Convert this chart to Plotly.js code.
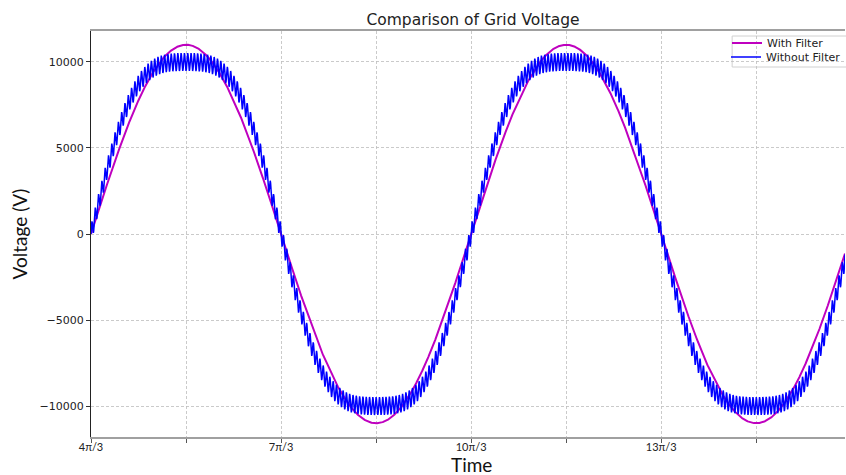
<!DOCTYPE html>
<html>
<head>
<meta charset="utf-8">
<script src="https://cdn.plot.ly/plotly-3.0.1.min.js"></script>
<style>
  html, body { margin: 0; padding: 0; background: #ffffff; overflow: hidden; }
  #chart { width: 846px; height: 475px; }
</style>
</head>
<body>
<div id="chart"></div>
<script>
// Phase window in radians: from 4π/3 over almost two fundamental cycles
const phaseStart = 4 * Math.PI / 3;
const phaseSpan = 3.967 * Math.PI;

// Harmonic content of each waveform: order and peak volts
const harmonicOrders = [1, 3];
const withFilterAmps = [11000, 0];
const withoutFilterAmps = [11160, 1160];

// Switching ripple left on the unfiltered voltage
const rippleOrders = [115];
const rippleAmps = [520];

// Axis ticks
const yTickVals = [-10000, -5000, 0, 5000, 10000];
const yTickText = ['\u221210000', '\u22125000', '0', '5000', '10000'];
const xTickHalfPi = [0, 1, 2, 3, 4, 5, 6, 7, 8];
const xTickText = ['4\u03c0/3', '', '7\u03c0/3', '', '10\u03c0/3', '', '13\u03c0/3', '', '16\u03c0/3'];

const nSamples = 9000;
const phase = [];
for (let i = 0; i <= nSamples; i++) phase.push(phaseStart + phaseSpan * i / nSamples);

function synth(amps, ripOrders, ripAmps) {
  return phase.map(p => {
    const th = p - phaseStart;
    let v = 0;
    harmonicOrders.forEach((h, k) => { v += amps[k] * Math.sin(h * th); });
    ripOrders.forEach((h, k) => { v += ripAmps[k] * Math.sin(h * th); });
    return v;
  });
}

const withFilter = synth(withFilterAmps, [], []);
const withoutFilter = synth(withoutFilterAmps, rippleOrders, rippleAmps);

const traces = [
  {
    x: phase, y: withFilter, type: 'scatter', mode: 'lines', name: 'With Filter',
    line: { color: '#bf00bf', width: 2 }, legend: 'legend'
  },
  {
    x: phase, y: withoutFilter, type: 'scatter', mode: 'lines', name: 'Without Filter',
    line: { color: '#0000ff', width: 1.5 }, legend: 'legend2'
  }
];

const gridStyle = { showgrid: true, gridcolor: '#bdbdbd', griddash: '3px,2px', gridwidth: 0.8 };

// plot-area pixel helpers for placing the legend frame
const plotL = 91, plotT = 31, plotW = 755, plotH = 406;
const px2x = px => (px - plotL) / plotW;
const px2y = py => 1 - (py - plotT) / plotH;

const legendCommon = {
  xanchor: 'left', yanchor: 'middle',
  bgcolor: 'rgba(0,0,0,0)', borderwidth: 0,
  font: { family: 'DejaVu Sans', size: 11, color: '#222' }
};

const layout = {
  width: 846, height: 475,
  margin: { l: plotL, r: 0, t: plotT, b: 475 - plotT - plotH },
  paper_bgcolor: '#ffffff', plot_bgcolor: '#ffffff',
  showlegend: true,
  title: {
    text: 'Comparison of Grid Voltage',
    font: { family: 'DejaVu Sans', size: 15.5, color: '#222' },
    x: 473 / 846, xref: 'container', xanchor: 'center',
    y: 1 - 20 / 475, yref: 'container', yanchor: 'middle'
  },
  xaxis: Object.assign({
    range: [phaseStart, phaseStart + phaseSpan],
    tickmode: 'array',
    tickvals: xTickHalfPi.map(k => phaseStart + k * Math.PI / 2),
    ticktext: xTickText,
    ticks: 'outside', ticklen: 4, tickcolor: '#555', tickwidth: 1,
    ticklabelstandoff: -5,
    tickfont: { family: 'Lato', size: 11, color: '#222' },
    showline: true, linecolor: '#a0a0a0', linewidth: 2, mirror: true,
    zeroline: false
  }, gridStyle),
  yaxis: Object.assign({
    range: [-11800, 11800],
    tickmode: 'array', tickvals: yTickVals, ticktext: yTickText,
    ticks: 'outside', ticklen: 4, tickcolor: '#333', tickwidth: 1,
    tickfont: { family: 'DejaVu Sans', size: 11, color: '#222' },
    showline: true, linecolor: '#222', linewidth: 1, mirror: false,
    zeroline: false,
    title: { text: 'Voltage (V)', font: { family: 'Lato', size: 19, color: '#111' }, standoff: 6 }
  }, gridStyle),
  legend: Object.assign({ x: px2x(727), y: px2y(43) }, legendCommon),
  legend2: Object.assign({ x: px2x(727), y: px2y(57) }, legendCommon),
  shapes: [
    {
      type: 'rect', xref: 'paper', yref: 'paper', layer: 'below',
      x0: px2x(733), x1: px2x(860), y0: px2y(67), y1: px2y(36),
      line: { color: '#d0d0d0', width: 1 }, fillcolor: 'rgba(255,255,255,0.9)'
    }
  ],
  annotations: [
    {
      text: 'Time', xref: 'paper', yref: 'paper', showarrow: false,
      x: px2x(472), y: px2y(464), xanchor: 'center', yanchor: 'middle',
      font: { family: 'Lato', size: 19, color: '#111' }
    }
  ]
};

Plotly.newPlot('chart', traces, layout, { staticPlot: true, displayModeBar: false });
</script>
</body>
</html>
